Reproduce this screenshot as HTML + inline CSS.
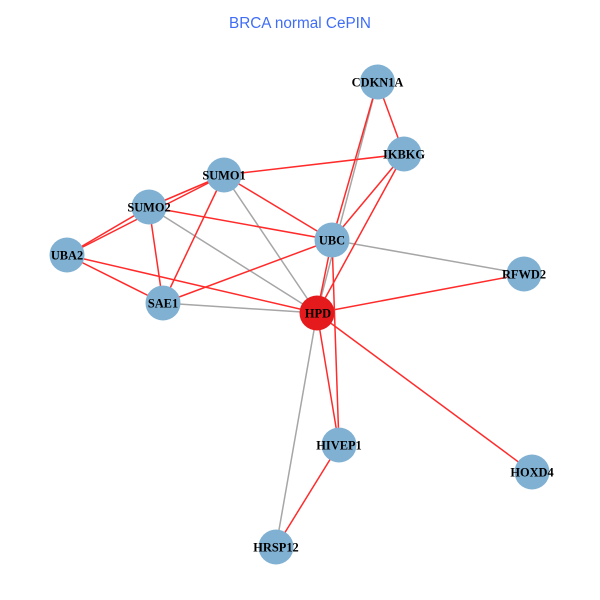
<!DOCTYPE html>
<html><head><meta charset="utf-8"><style>
html,body{margin:0;padding:0;background:#fff}
svg{display:block}
.r{stroke:#ff2b2b;stroke-width:1.5;fill:none}
.g{stroke:#a6a6a6;stroke-width:1.5;fill:none}
.n{fill:#80b1d3}
text.l{font:bold 12.4px "Liberation Serif",serif;fill:#000;text-anchor:middle}
</style></head><body>
<svg width="600" height="600" viewBox="0 0 600 600" xmlns="http://www.w3.org/2000/svg">
<rect width="600" height="600" fill="#fff"/>
<text x="300" y="28" text-anchor="middle" style="font:15.3px 'Liberation Sans',sans-serif;fill:#3f6df5">BRCA normal CePIN</text>
<g>
<line class="g" x1="377.5" y1="82" x2="317" y2="313"/>
<line class="g" x1="224" y1="175" x2="317" y2="313"/>
<line class="g" x1="149" y1="207" x2="317" y2="313"/>
<line class="g" x1="163" y1="303" x2="317" y2="313"/>
<line class="g" x1="332" y1="240" x2="524" y2="274"/>
<line class="g" x1="317" y1="313" x2="276" y2="547"/>
<line class="r" x1="377.5" y1="82" x2="404" y2="154"/>
<line class="r" x1="377.5" y1="82" x2="332" y2="240"/>
<line class="r" x1="404" y1="154" x2="224" y2="175"/>
<line class="r" x1="404" y1="154" x2="332" y2="240"/>
<line class="r" x1="404" y1="154" x2="317" y2="313"/>
<line class="r" x1="224" y1="175" x2="149" y2="207"/>
<line class="r" x1="224" y1="175" x2="67" y2="255"/>
<line class="r" x1="224" y1="175" x2="163" y2="303"/>
<line class="r" x1="224" y1="175" x2="332" y2="240"/>
<line class="r" x1="149" y1="207" x2="67" y2="255"/>
<line class="r" x1="149" y1="207" x2="163" y2="303"/>
<line class="r" x1="149" y1="207" x2="332" y2="240"/>
<line class="r" x1="67" y1="255" x2="163" y2="303"/>
<line class="r" x1="67" y1="255" x2="317" y2="313"/>
<line class="r" x1="163" y1="303" x2="332" y2="240"/>
<line class="r" x1="332" y1="240" x2="317" y2="313"/>
<line class="r" x1="332" y1="240" x2="339" y2="445"/>
<line class="r" x1="317" y1="313" x2="524" y2="274"/>
<line class="r" x1="317" y1="313" x2="339" y2="445"/>
<line class="r" x1="317" y1="313" x2="532" y2="472"/>
<line class="r" x1="339" y1="445" x2="276" y2="547"/>
</g>
<circle class="n" cx="377.5" cy="82" r="17.5"/>
<circle class="n" cx="404" cy="154" r="17.5"/>
<circle class="n" cx="224" cy="175" r="17.5"/>
<circle class="n" cx="149" cy="207" r="17.5"/>
<circle class="n" cx="67" cy="255" r="17.5"/>
<circle class="n" cx="163" cy="303" r="17.5"/>
<circle class="n" cx="332" cy="240" r="17.5"/>
<circle cx="317" cy="313" r="17.5" fill="#e41a1c"/>
<circle class="n" cx="524" cy="274" r="17.5"/>
<circle class="n" cx="339" cy="445" r="17.5"/>
<circle class="n" cx="532" cy="472" r="17.5"/>
<circle class="n" cx="276" cy="547" r="17.5"/>
<text class="l" x="377.5" y="86.5">CDKN1A</text>
<text class="l" x="404" y="158.5">IKBKG</text>
<text class="l" x="224" y="179.5">SUMO1</text>
<text class="l" x="149" y="211.5">SUMO2</text>
<text class="l" x="67" y="259.5">UBA2</text>
<text class="l" x="163" y="307.5">SAE1</text>
<text class="l" x="332" y="244.5">UBC</text>
<text class="l" x="318" y="317.5">HPD</text>
<text class="l" x="524" y="278.5">RFWD2</text>
<text class="l" x="339" y="449.5">HIVEP1</text>
<text class="l" x="532" y="476.5">HOXD4</text>
<text class="l" x="276" y="551.5">HRSP12</text>
</svg>
</body></html>
